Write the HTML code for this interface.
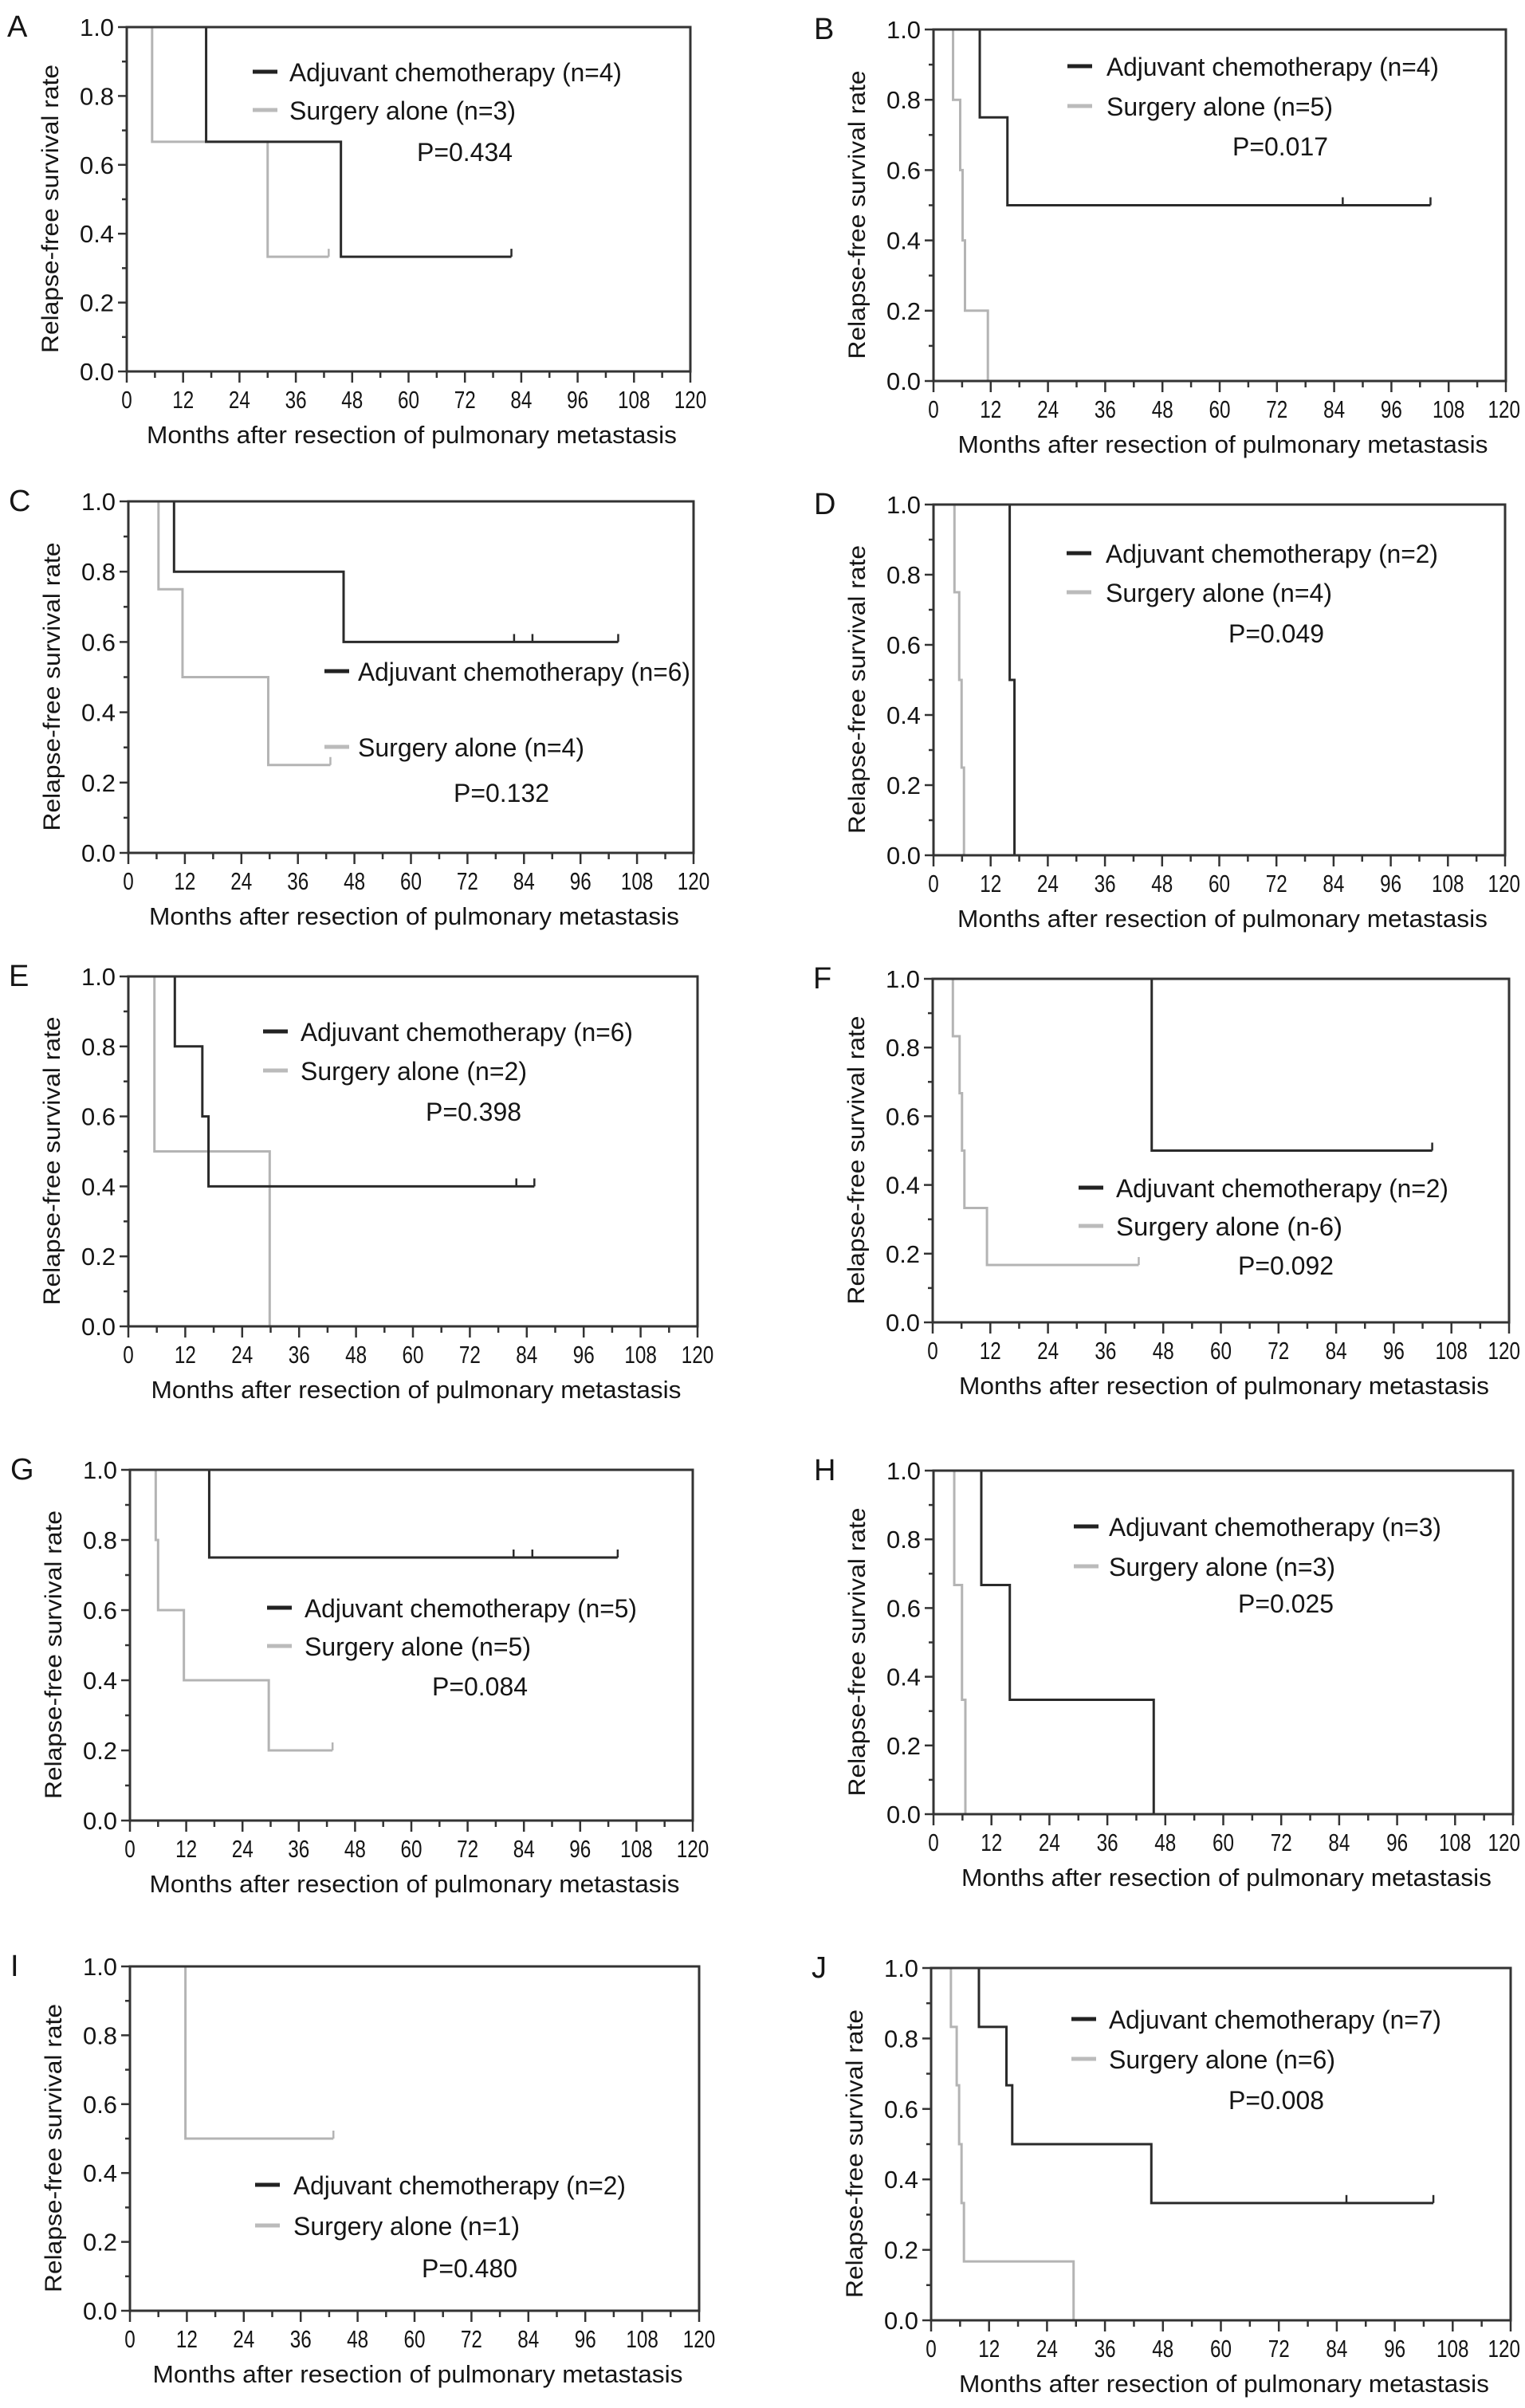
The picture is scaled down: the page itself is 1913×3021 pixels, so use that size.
<!DOCTYPE html>
<html><head><meta charset="utf-8"><title>Relapse-free survival curves</title>
<style>
html,body{margin:0;padding:0;background:#fff;}
svg{display:block;}
text{font-family:"Liberation Sans",Arial,sans-serif;fill:#151515;}
</style></head>
<body>
<svg id="fig" width="1913" height="3021" viewBox="0 0 1913 3021" xmlns="http://www.w3.org/2000/svg"></svg>
<script>
// ---- data ----
const panelLetters = ["A","B","C","D","E","F","G","H","I","J"];
const chemoN = [4,4,6,2,6,2,5,3,2,7];
const surgN = ["n=3","n=5","n=4","n=4","n=2","n-6","n=5","n=3","n=1","n=6"];
const pValues = ["0.434","0.017","0.132","0.049","0.398","0.092","0.084","0.025","0.480","0.008"];
const xTickLabels = [0,12,24,36,48,60,72,84,96,108,120];
const yTickLabels = ["0.0","0.2","0.4","0.6","0.8","1.0"];

// chemo curves: event times, survival after each step, end of follow-up, censor marks
const chemoTimes = [[16.9,45.6],[9.7,15.5],[9.7,45.7],[16,17],[9.8,15.6,16.9],[45.6],[16.9],[9.9,15.8,45.6],[],[9.9,15.6,16.8,45.6]];
const chemoSurv  = [[0.667,0.333],[0.75,0.5],[0.8,0.6],[0.5,0],[0.8,0.6,0.4],[0.5],[0.75],[0.667,0.333,0],[],[0.833,0.667,0.5,0.333]];
const chemoEnd   = [81.9,104.2,104,17,85.6,104,104,45.6,null,104];
const chemoCens  = [[81.9],[85.8,104.2],[81.9,85.8,104],[],[81.8,85.6],[104],[81.8,85.8,104],[],[],[86,104]];

const surgTimes = [[5.4,30],[4.1,5.6,6.1,6.6,11.4],[6.4,11.5,29.7],[4.4,5.4,5.9,6.4],[5.5,29.8],[4.2,5.6,6.1,6.6,11.3],[5.5,6,11.5,29.6],[4.3,5.9,6.6],[11.7],[4.1,5.3,5.8,6.3,6.8,29.5]];
const surgSurv  = [[0.667,0.333],[0.8,0.6,0.4,0.2,0],[0.75,0.5,0.25],[0.75,0.5,0.25,0],[0.5,0],[0.833,0.667,0.5,0.333,0.167],[0.8,0.6,0.4,0.2],[0.667,0.333,0],[0.5],[0.833,0.667,0.5,0.333,0.167,0]];
const surgEnd   = [43,11.4,42.9,6.4,29.8,42.9,43.2,6.6,42.9,29.5];
const surgCens  = [[43],[],[42.9],[],[],[42.9],[43.2],[],[42.9],[]];

// ---- layout (pixels) ----
const boxes = [
 [159,34,866,466],[1171,37,1889,478],
 [161,629,870,1070],[1171,633,1888,1073],
 [161,1225,875,1664],[1170,1228,1893,1659],
 [163,1844,869,2284],[1171,1845,1898,2276],
 [163,2467,877,2899],[1168,2469,1895,2911]];
const legendPos = [
 [317,363,90,138,523,190],[1339,1388,83,133,1546,183],
 [407,449,842,937,569,994],[1338,1387,694,743,1541,794],
 [330,377,1294,1343,534,1394],[1353,1400,1490,1538,1553,1587],
 [335,382,2017,2065,542,2115],[1347,1391,1915,1965,1553,2011],
 [320,368,2741,2792,529,2845],[1344,1391,2533,2583,1541,2634]];

const NS = "http://www.w3.org/2000/svg";
const svg = document.getElementById("fig");
function mk(tag, attrs, parent){
  const e = document.createElementNS(NS, tag);
  for (const k in attrs) e.setAttribute(k, attrs[k]);
  (parent||svg).appendChild(e);
  return e;
}

function stepPath(xs, ys, times, surv, end){
  let d = "M" + xs(0) + " " + ys(1);
  for (let i=0;i<times.length;i++){
    d += " H" + xs(times[i]) + " V" + ys(surv[i]);
  }
  if (end != null && end > (times.length ? times[times.length-1] : 0)) d += " H" + xs(end);
  return d;
}

for (let p=0;p<10;p++){
  const [L,T,R,B] = boxes[p];
  const xs = m => L + (R-L)*m/120;
  const ys = v => B - (B-T)*v;
  const g = mk("g", {});
  
  

  const letter = mk("text", {x: L-150, y: T+12, "font-size": 38}, g);
  letter.textContent = panelLetters[p];
  
  

  const sc = mk("path", {d: stepPath(xs, ys, surgTimes[p], surgSurv[p], surgEnd[p]), fill:"none", stroke:"#b4b4b4", "stroke-width":3}, g);
  
  
  for (const c of surgCens[p]){
    const y = ys(surgSurv[p].length ? surgSurv[p][surgSurv[p].length-1] : 1);
    const tk = mk("line", {x1: xs(c), x2: xs(c), y1: y, y2: y-10, stroke:"#b4b4b4", "stroke-width":2.5}, g);
    
    
  }
  if (chemoEnd[p] != null){
    const cc = mk("path", {d: stepPath(xs, ys, chemoTimes[p], chemoSurv[p], chemoEnd[p]), fill:"none", stroke:"#2a2a2a", "stroke-width":3}, g);
    
    
    for (const c of chemoCens[p]){
      const y = ys(chemoSurv[p][chemoSurv[p].length-1]);
      const tk = mk("line", {x1: xs(c), x2: xs(c), y1: y, y2: y-10, stroke:"#2a2a2a", "stroke-width":2.5}, g);
      
      
    }
  }

  const fr = mk("rect", {x:L, y:T, width:R-L, height:B-T, fill:"none", stroke:"#333", "stroke-width":3}, g);
  
  

  for (let i=0;i<=10;i++){
    const y = ys(i/10), major = i%2===0;
    const t = mk("line", {x1:L, x2:L-(major?11:6), y1:y, y2:y, stroke:"#333", "stroke-width":2.5}, g);
    
    
  }
  yTickLabels.forEach((lab,i)=>{
    const tl = mk("text", {x:L-16, y:ys(i*0.2)+11, "font-size":31, "text-anchor":"end", textLength:43, lengthAdjust:"spacingAndGlyphs"}, g);
    tl.textContent = lab;
    
    
  });
  for (let m=0;m<=120;m+=6){
    const major = m%12===0;
    const t = mk("line", {x1:xs(m), x2:xs(m), y1:B, y2:B+(major?14:8), stroke:"#333", "stroke-width":2.5}, g);
    
    
  }
  xTickLabels.forEach(m=>{
    const s = String(m);
    const w = s.length*13.5;
    let cx = xs(m);
    if (cx + w/2 > 1907) cx = 1907 - w/2;
    const tl = mk("text", {x:cx, y:B+46, "font-size":31, "text-anchor":"middle", textLength:w, lengthAdjust:"spacingAndGlyphs"}, g);
    tl.textContent = s;
    
    
  });
  const xt = mk("text", {x:(L+R)/2+4, y:B+90, "font-size":31, "text-anchor":"middle", textLength:665, lengthAdjust:"spacingAndGlyphs"}, g);
  xt.textContent = "Months after resection of pulmonary metastasis";
  
  
  const cy = (T+B)/2 + 12, cx = L-86;
  const yt = mk("text", {x:cx, y:cy, "font-size":30, "text-anchor":"middle", transform:"rotate(-90 "+cx+" "+cy+")", textLength:362, lengthAdjust:"spacingAndGlyphs"}, g);
  yt.textContent = "Relapse-free survival rate";
  
  

  const [lx, tx, y1, y2, px, py] = legendPos[p];
  const l1 = mk("line", {x1:lx, x2:lx+31, y1:y1, y2:y1, stroke:"#222", "stroke-width":5}, g);
  
  
  const t1 = mk("text", {x:tx, y:y1+12, "font-size":32, textLength:417, lengthAdjust:"spacingAndGlyphs"}, g);
  t1.textContent = "Adjuvant chemotherapy (n=" + chemoN[p] + ")";
  
  
  const l2 = mk("line", {x1:lx, x2:lx+31, y1:y2, y2:y2, stroke:"#bbb", "stroke-width":5}, g);
  
  
  const t2 = mk("text", {x:tx, y:y2+12, "font-size":32, textLength:284, lengthAdjust:"spacingAndGlyphs"}, g);
  t2.textContent = "Surgery alone (" + surgN[p] + ")";
  
  
  const pt = mk("text", {x:px, y:py+12, "font-size":32, textLength:120, lengthAdjust:"spacingAndGlyphs"}, g);
  pt.textContent = "P=" + pValues[p];
  
  
}
</script>
</body></html>
